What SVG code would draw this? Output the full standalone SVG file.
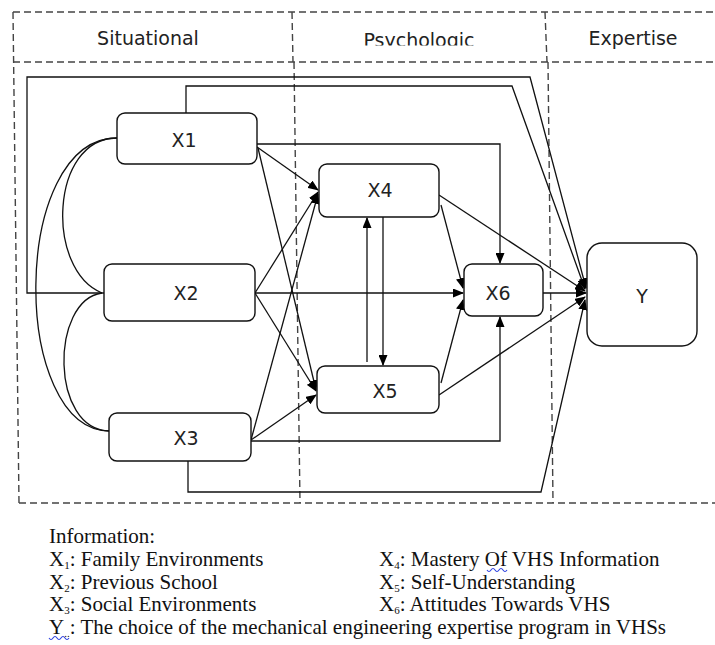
<svg xmlns="http://www.w3.org/2000/svg" width="715" height="645" viewBox="0 0 715 645">
<style>
.dash{fill:none;stroke:#444;stroke-width:1.4;stroke-dasharray:7 4}
.hdr{font-family:"DejaVu Sans",Verdana,sans-serif;font-size:19px;fill:#222;text-anchor:middle}
.node rect{fill:#fff;stroke:#111;stroke-width:1.4}
.node text{font-family:"DejaVu Sans",Verdana,sans-serif;font-size:19px;fill:#222;text-anchor:middle}
.con path{fill:none;stroke:#111;stroke-width:1.3}
.arr{marker-end:url(#ah)}
.leg{font-family:"Liberation Serif","Times New Roman",serif;font-size:21px;fill:#111}
.sub{font-size:11px}
.wavy{fill:none;stroke:#2a3fe0;stroke-width:1.1}
</style>
<defs>
<marker id="ah" markerWidth="11" markerHeight="9" refX="10" refY="4.5" orient="auto" markerUnits="userSpaceOnUse">
<path d="M0,0 L11,4.5 L0,9 z" fill="#000"/>
</marker>
<clipPath id="cut"><rect x="300" y="20" width="240" height="25.5"/></clipPath>
</defs>
<rect width="715" height="645" fill="#fff"/>
<g id="frame">
<path class="dash" d="M13,12 H715 M13,62 H715 M19,503 H715 M13,12 L19,503 M292,12 L293,62 M294,62 L300,503 M545,12 L547,62 M548,62 L553,503"/>
<text class="hdr" x="148" y="45">Situational</text>
<text class="hdr" x="419" y="47" clip-path="url(#cut)">Psychologic</text>
<text class="hdr" x="633" y="45">Expertise</text>
</g>
<g id="connectors" class="con">
<path class="arr" d="M104,293 L27,293 L27,77 L530,77 L586,288"/>
<path class="arr" d="M186,113 L186,86 L512,86 L585,289"/>
<path class="arr" d="M257,144 L500,144 L500,263"/>
<path class="arr" d="M257,147 L318,190"/>
<path class="arr" d="M258,148 L316,390"/>
<path class="arr" d="M255,293 L318,192"/>
<path class="arr" d="M255,293 L463,293"/>
<path class="arr" d="M255,293 L316,391"/>
<path class="arr" d="M251,440 L318,194"/>
<path class="arr" d="M251,440 L316,395"/>
<path class="arr" d="M251,441 L500,441 L500,317"/>
<path class="arr" d="M188,461 L188,492 L541,492 L585,300"/>
<path class="arr" d="M441,205 L463,288"/>
<path class="arr" d="M439,195 L585,291"/>
<path class="arr" d="M441,383 L463,300"/>
<path class="arr" d="M439,395 L585,297"/>
<path class="arr" d="M543,293 L586,293"/>
<path class="arr" d="M367,362 L367,218"/>
<path class="arr" d="M383,217 L383,365"/>
<path d="M117,138 C50,138 45,270 102,293"/>
<path d="M102,293 C50,300 50,431 110,431"/>
<path d="M117,138 C10,138 10,431 110,431"/>
</g>
<g id="X1" class="node"><rect x="117" y="113" width="140" height="51" rx="8"/><text x="184" y="147">X1</text></g>
<g id="X2" class="node"><rect x="104" y="264" width="151" height="57" rx="8"/><text x="186" y="300">X2</text></g>
<g id="X3" class="node"><rect x="109" y="413" width="142" height="48" rx="8"/><text x="186" y="445">X3</text></g>
<g id="X4" class="node"><rect x="319" y="164" width="120" height="53" rx="8"/><text x="380" y="197">X4</text></g>
<g id="X5" class="node"><rect x="317" y="366" width="122" height="47" rx="8"/><text x="385" y="398">X5</text></g>
<g id="X6" class="node"><rect x="464" y="264" width="79" height="52" rx="8"/><text x="498" y="300">X6</text></g>
<g id="Y" class="node"><rect x="587" y="243" width="110" height="103" rx="15"/><text x="642" y="303">Y</text></g>
<g id="legend" class="leg">
<text x="49" y="543">Information:</text>
<text x="49" y="566">X<tspan class="sub" dy="3">1</tspan><tspan dy="-3">: Family Environments</tspan></text>
<text x="49" y="589">X<tspan class="sub" dy="3">2</tspan><tspan dy="-3">: Previous School</tspan></text>
<text x="49" y="611">X<tspan class="sub" dy="3">3</tspan><tspan dy="-3">: Social Environments</tspan></text>
<text x="49" y="634">Y<tspan class="sub" dy="3">..</tspan><tspan dy="-3">: The choice of the mechanical engineering expertise program in VHSs</tspan></text>
<text x="379" y="566">X<tspan class="sub" dy="3">4</tspan><tspan dy="-3">: Mastery Of VHS Information</tspan></text>
<text x="379" y="589">X<tspan class="sub" dy="3">5</tspan><tspan dy="-3">: Self-Understanding</tspan></text>
<text x="379" y="611">X<tspan class="sub" dy="3">6</tspan><tspan dy="-3">: Attitudes Towards VHS</tspan></text>
<path class="wavy" d="M49,638 q2,3 4,0 t4,0 t4,0 t4,0 t4,0"/>
<path class="wavy" d="M487,570 q2,3 4,0 t4,0 t4,0 t4,0 t4,0"/>
</g>
</svg>
